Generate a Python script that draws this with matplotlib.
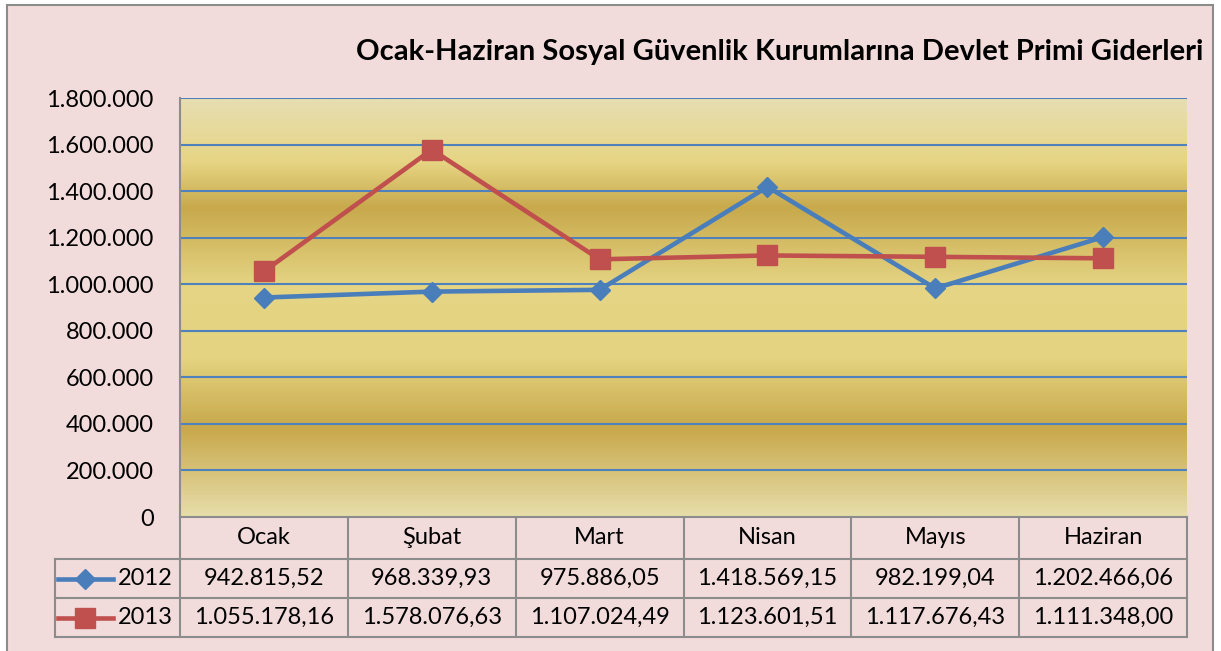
import numpy as np
import matplotlib
matplotlib.use('Agg')
import matplotlib.pyplot as plt
from matplotlib.colors import LinearSegmentedColormap
from matplotlib.patches import Rectangle

plt.rcParams['font.family'] = ['Lato', 'DejaVu Sans']

# data
months = ['Ocak', 'Şubat', 'Mart', 'Nisan', 'Mayıs', 'Haziran']
series_names = ['2012', '2013']
values_2012 = [942815.52, 968339.93, 975886.05, 1418569.15, 982199.04, 1202466.06]
values_2013 = [1055178.16, 1578076.63, 1107024.49, 1123601.51, 1117676.43, 1111348.00]
y_ticks = [0, 200000, 400000, 600000, 800000, 1000000, 1200000, 1400000, 1600000, 1800000]
title = 'Ocak-Haziran Sosyal Güvenlik Kurumlarına Devlet Primi Giderleri'

blue = '#4A7EBB'
red = '#C0504D'
pink = '#F2DCDB'
gray = '#8C8C8C'


def tr_int(v):
    return f'{v:,.0f}'.replace(',', '.')


def tr_dec(v):
    s = f'{v:,.2f}'
    return s.replace(',', 'X').replace('.', ',').replace('X', '.')


W, H = 1221, 651
fig = plt.figure(figsize=(W / 100, H / 100), dpi=100)
fig.patch.set_facecolor('white')

# outer chart frame
fig.patches.append(Rectangle((7 / W, -0.05), 1206 / W, 1 - 5 / H + 0.05,
                             transform=fig.transFigure, facecolor=pink,
                             edgecolor=gray, linewidth=1.5, zorder=-10))

# plot area in pixels
px_l, px_r, px_t, px_b = 180, 1187, 98, 517
ax = fig.add_axes([px_l / W, 1 - px_b / H, (px_r - px_l) / W, (px_b - px_t) / H])
ax.patch.set_alpha(0)

gold = LinearSegmentedColormap.from_list('gold', [
    (0.0, '#E7DEB2'), (0.15, '#E6D584'), (0.26, '#C8A94C'),
    (0.45, '#E5D584'), (0.62, '#E4D380'), (0.79, '#C8A84B'),
    (1.0, '#E7DDAA')])
grad = np.linspace(0, 1, 400).reshape(-1, 1)
ax.imshow(grad, cmap=gold, extent=[-0.5, 5.5, 0, 1800000], aspect='auto',
          origin='upper', zorder=0)

x = np.arange(len(months))
for t in y_ticks[1:]:
    ax.axhline(t, color='#4F81BD', linewidth=1.5, zorder=1)

ax.plot(x, values_2012, color=blue, linewidth=3.3, marker='D', markersize=10,
        zorder=3, clip_on=False)
ax.plot(x, values_2013, color=red, linewidth=3.3, marker='s', markersize=14,
        zorder=4, clip_on=False)

ax.set_xlim(-0.5, 5.5)
ax.set_ylim(0, 1800000)
ax.set_yticks(y_ticks)
ax.set_yticklabels([tr_int(t) for t in y_ticks], fontsize=17)
ax.set_xticks([])
ax.tick_params(axis='y', length=0, pad=19)
for s in ['top', 'right', 'bottom']:
    ax.spines[s].set_visible(False)
ax.spines['left'].set_color(gray)
ax.spines['left'].set_linewidth(1.5)

# data table below the plot
col_w = (px_r - px_l) / len(months)
tb_l, tb_t, tb_b = 55, 517, 637
tab = fig.add_axes([tb_l / W, 1 - tb_b / H, (px_r - tb_l) / W, (tb_b - tb_t) / H])
tab.set_xlim(-0.5 - (px_l - tb_l) / col_w, 5.5)
tab.set_ylim(tb_b - tb_t, 0)
tab.axis('off')
left_x = -0.5 - (px_l - tb_l) / col_w
rows = [0, 42, 81, 120]

lk = dict(color=gray, linewidth=1.5, clip_on=False, zorder=2)
tab.plot([-0.5, 5.5], [rows[0], rows[0]], **lk)
for r in rows[1:]:
    tab.plot([left_x, 5.5], [r, r], **lk)
for i in range(len(months) + 1):
    tab.plot([i - 0.5, i - 0.5], [rows[0], rows[-1]], **lk)
tab.plot([left_x, left_x], [rows[1], rows[-1]], **lk)

for i, m in enumerate(months):
    tab.text(i, (rows[0] + rows[1]) / 2, m, ha='center', va='center', fontsize=17)

styles = [(values_2012, blue, 'D', 10), (values_2013, red, 's', 14)]
for k, (vals, c, mk, ms) in enumerate(styles):
    yc = (rows[k + 1] + rows[k + 2]) / 2
    k0 = left_x + 3 / col_w
    k1 = left_x + 58 / col_w
    tab.plot([k0, k1], [yc, yc], color=c, linewidth=3.3, clip_on=False)
    tab.plot([(k0 + k1) / 2], [yc], color=c, marker=mk, markersize=ms, clip_on=False)
    tab.text(left_x + 63 / col_w, yc, series_names[k], ha='left', va='center', fontsize=17)
    for i, v in enumerate(vals):
        tab.text(i, yc, tr_dec(v), ha='center', va='center', fontsize=17)

fig.text(780 / W, 1 - 52 / H, title, ha='center', va='center',
         fontsize=21, fontweight='bold')

fig.savefig('out.png', dpi=100)
